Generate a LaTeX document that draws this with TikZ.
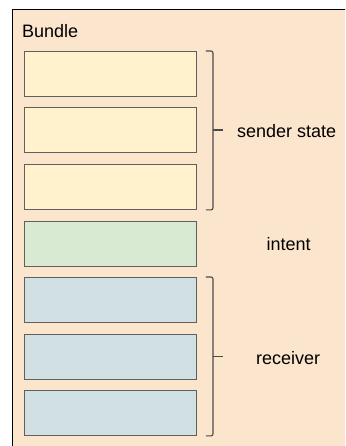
\documentclass[tikz,border=0pt]{standalone}
\usepackage{fontspec}
\setmainfont{Liberation Sans}
\definecolor{bundlebg}{HTML}{FCE5CD}
\definecolor{statefill}{HTML}{FFF2CC}
\definecolor{intentfill}{HTML}{D9EAD3}
\definecolor{recvfill}{HTML}{D0E0E3}
\definecolor{slotline}{HTML}{5F5F5F}
\definecolor{braceline}{HTML}{4A4A4A}
\begin{document}
\begin{tikzpicture}[x=1pt,y=-1pt,
  slot/.style={draw=slotline, line width=0.9pt, minimum width=172pt,
    minimum height=45pt, inner sep=0pt, anchor=north west},
  statebox/.style={slot, fill=statefill},
  intentbox/.style={slot, fill=intentfill},
  recvbox/.style={slot, fill=recvfill},
  bracket/.style={draw=braceline, line width=1.1pt, rounded corners=2pt},
  lbl/.style={font=\fontsize{18}{21}\selectfont, inner sep=0pt, anchor=base west}]
\clip (0,0) rectangle (345,446);
% container
\node[draw=black, line width=1pt, fill=bundlebg, minimum width=345pt,
  minimum height=450pt, inner sep=0pt, anchor=north west] (bundle) at (12,9) {};
\node[lbl] (title) at (22,37.5) {Bundle};
% slots
\node[statebox]  (s1) at (24,51) {};
\node[statebox]  (s2) at (24,107.5) {};
\node[statebox]  (s3) at (24,164) {};
\node[intentbox] (in) at (24,220.5) {};
\node[recvbox]   (r1) at (24,277) {};
\node[recvbox]   (r2) at (24,333.5) {};
\node[recvbox]   (r3) at (24,390) {};
% sender state bracket
\coordinate (st) at (213,130);
\draw[bracket] ([xshift=9pt]s1.north east) -| (213,130) |- ([xshift=9pt]s3.south east);
\draw[draw=braceline, line width=1.3pt] (st) -- ++(10,0);
\node[lbl] (sl) at (237,137.5) {sender state};
% intent label
\node[lbl] (il) at (266.5,250) {intent};
% receiver bracket
\coordinate (rt) at (213,356.5);
\draw[bracket] ([xshift=9pt]r1.north east) -| (rt) |- ([xshift=9pt]r3.south east);
\draw[draw=braceline, line width=1.1pt] (rt) -- ++(10,0);
\node[lbl] (rl) at (256,364.5) {receiver};
\end{tikzpicture}
\end{document}
